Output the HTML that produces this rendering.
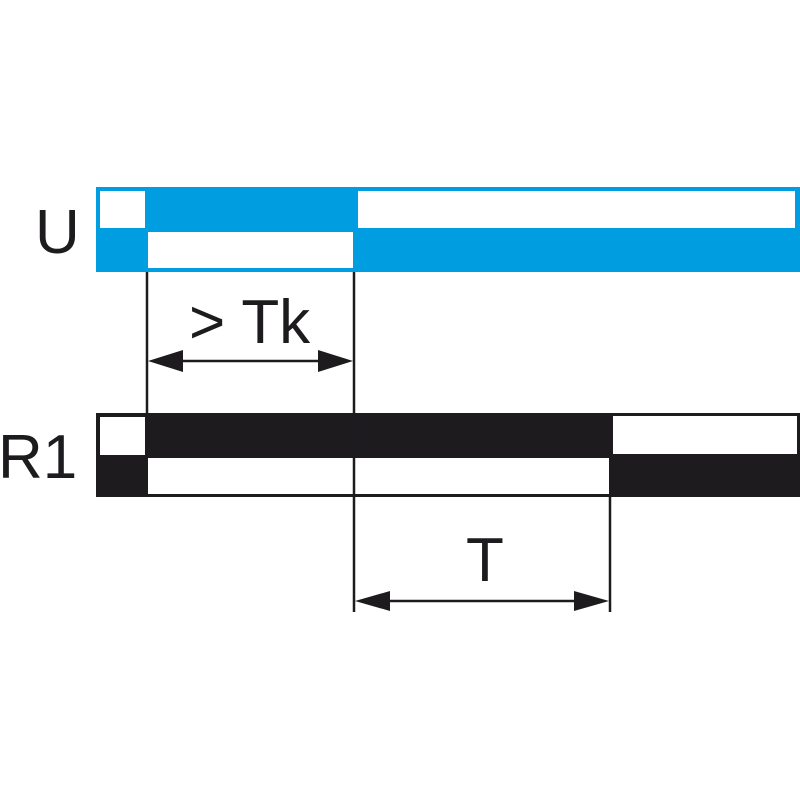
<!DOCTYPE html>
<html><head><style>body{margin:0;background:#fff}</style></head><body>
<svg width="800" height="800" xmlns="http://www.w3.org/2000/svg" font-family="Liberation Sans, sans-serif">
<rect x="0" y="0" width="800" height="800" fill="#fff"/>
<rect x="96" y="187" width="704" height="85" fill="#009de0"/>
<rect x="100" y="191" width="45" height="37" fill="#fff"/>
<rect x="148" y="232" width="205" height="36" fill="#fff"/>
<rect x="358" y="191" width="437" height="37" fill="#fff"/>
<rect x="96" y="413" width="704" height="84" fill="#1d1b1e"/>
<rect x="100" y="417" width="45" height="38" fill="#fff"/>
<rect x="148" y="458" width="461" height="36" fill="#fff"/>
<rect x="613" y="416" width="184" height="38" fill="#fff"/>
<g stroke="#1d1b1e" stroke-width="2.5" fill="none">
<line x1="147" y1="272" x2="147" y2="413"/>
<line x1="354" y1="272" x2="354" y2="612"/>
<line x1="610" y1="494" x2="610" y2="612"/>
<line x1="160" y1="361" x2="340" y2="361"/>
<line x1="370" y1="601" x2="595" y2="601"/>
</g>
<g fill="#1d1b1e">
<polygon points="148,361 183,350 183,372"/>
<polygon points="353,361 318,350 318,372"/>
<polygon points="355,601 390,591 390,611"/>
<polygon points="609,601 574,591 574,611"/>
</g>
<g font-size="62" fill="#1d1b1e">
<text x="35" y="253">U</text>
<text x="-2" y="478">R1</text>
<text x="189" y="343" font-size="62">&gt; Tk</text>
<text x="466" y="581" font-size="62">T</text>
</g>
</svg>
</body></html>
